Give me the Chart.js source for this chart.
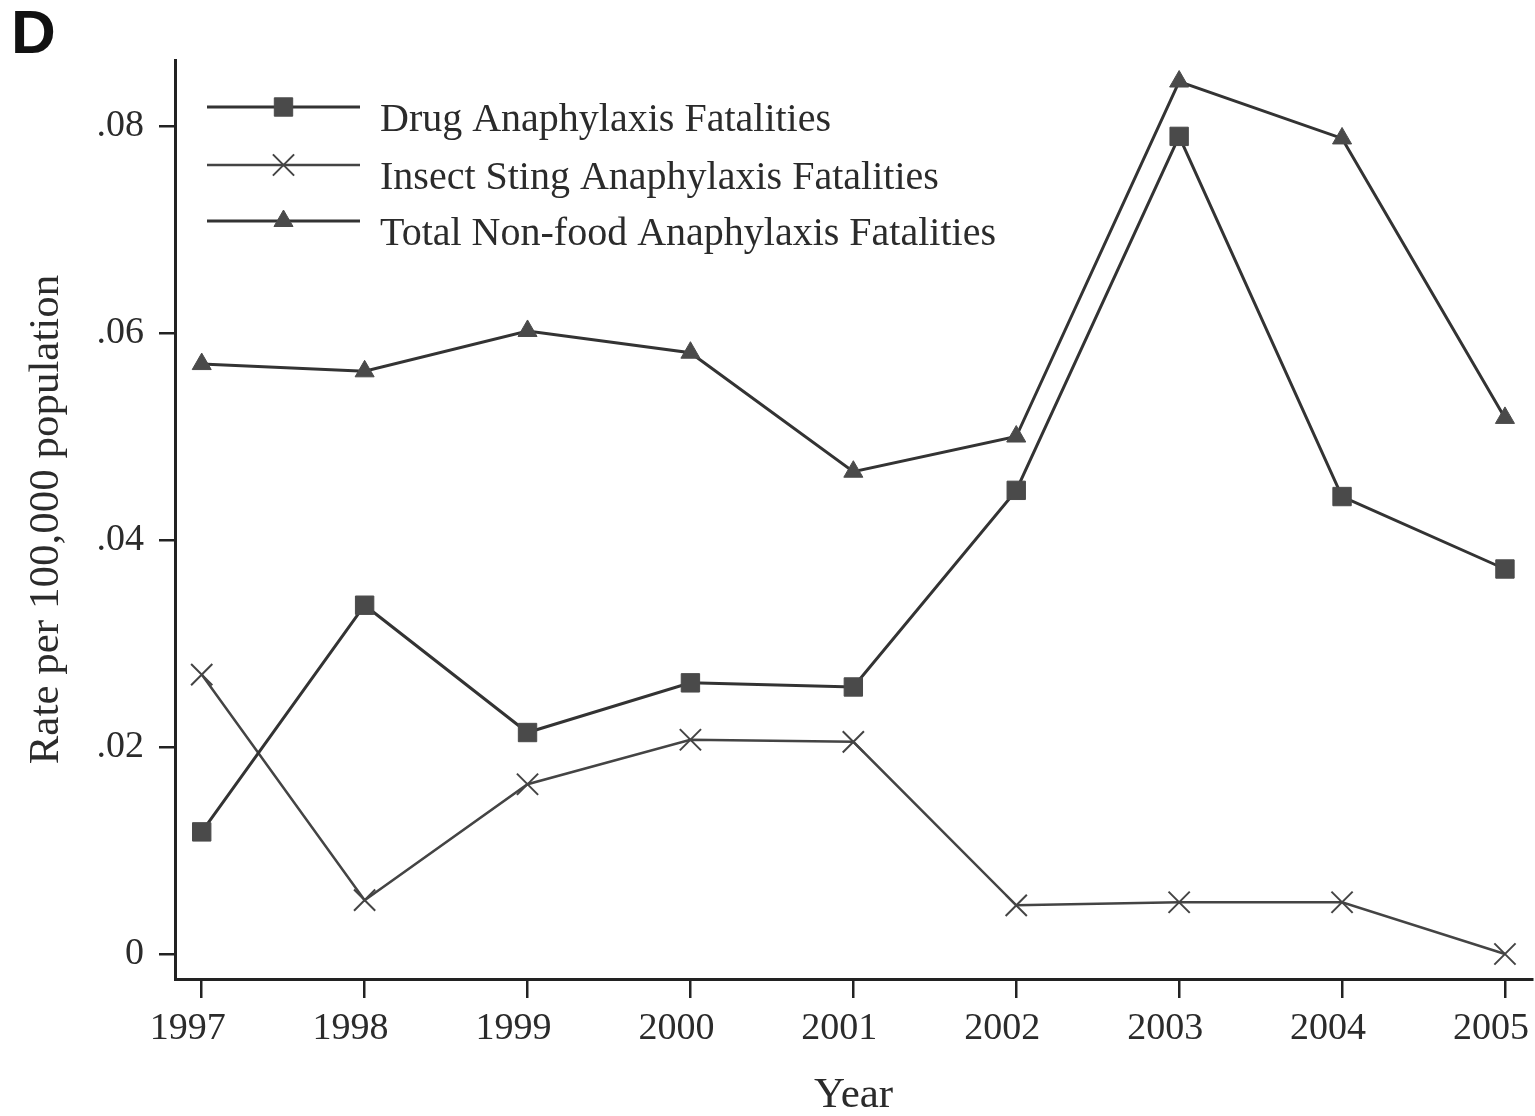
<!DOCTYPE html>
<html>
<head>
<meta charset="utf-8">
<script src="https://cdn.jsdelivr.net/npm/chart.js@4"></script>
<style>
  body { margin: 0; background: #fff; }
  #wrap { position: relative; width: 1535px; height: 1116px; }
  #panel { position: absolute; left: 11px; top: 1px; font: bold 62px "Liberation Sans", Arial, sans-serif; line-height: 1; color: #111; }
</style>
</head>
<body>
<div id="wrap">
  <canvas id="chart" width="1535" height="1116"></canvas>
  <div id="panel">D</div>
</div>
<script>
// values
const years = [1997, 1998, 1999, 2000, 2001, 2002, 2003, 2004, 2005];
const drug = [0.0118, 0.0337, 0.0214, 0.0262, 0.0258, 0.0448, 0.0790, 0.0442, 0.0372];
const insect = [0.0270, 0.0052, 0.0164, 0.0207, 0.0205, 0.0047, 0.0050, 0.0050, 0.0000];
const total = [0.0570, 0.0563, 0.0602, 0.0581, 0.0466, 0.0500, 0.0843, 0.0788, 0.0518];
const yTicks = [0, 0.02, 0.04, 0.06, 0.08];
const seriesNames = ["Drug Anaphylaxis Fatalities", "Insect Sting Anaphylaxis Fatalities", "Total Non-food Anaphylaxis Fatalities"];

const serif = "'Liberation Serif', 'Times New Roman', serif";
const ink = "#2b2b2b";

function points(vals) {
  return years.map((yr, i) => ({ x: yr, y: vals[i] }));
}

// legend drawn inside the plot, line + marker + label
const insideLegend = {
  id: "insideLegend",
  afterDraw(chart) {
    const ctx = chart.ctx;
    const area = chart.chartArea;
    const rows = [47, 105, 161];
    chart.data.datasets.forEach((ds, i) => {
      const y = area.top + rows[i];
      const x0 = area.left + 32, x1 = area.left + 185;
      ctx.save();
      ctx.strokeStyle = ds.borderColor;
      ctx.lineWidth = ds.borderWidth;
      ctx.beginPath();
      ctx.moveTo(x0, y);
      ctx.lineTo(x1, y);
      ctx.stroke();
      ctx.fillStyle = ds.pointBackgroundColor;
      ctx.strokeStyle = ds.pointBorderColor;
      ctx.lineWidth = ds.pointBorderWidth;
      Chart.helpers.drawPoint(ctx, { pointStyle: ds.pointStyle, radius: ds.pointRadius, borderWidth: ds.pointBorderWidth, rotation: 0 }, (x0 + x1) / 2, y);
      ctx.fillStyle = ink;
      ctx.font = "40px " + serif;
      ctx.textBaseline = "alphabetic";
      ctx.textAlign = "left";
      ctx.fillText(ds.label, area.left + 205, y + 24);
      ctx.restore();
    });
  }
};

new Chart(document.getElementById("chart"), {
  type: "line",
  data: {
    datasets: [
      {
        label: seriesNames[0],
        data: points(drug),
        borderColor: "#333",
        borderWidth: 3,
        pointStyle: "rect",
        pointRadius: 13,
        pointBackgroundColor: "#4a4a4a",
        pointBorderColor: "#4a4a4a",
        pointBorderWidth: 1,
        tension: 0
      },
      {
        label: seriesNames[1],
        data: points(insect),
        borderColor: "#444",
        borderWidth: 2.5,
        pointStyle: "crossRot",
        pointRadius: 15,
        pointBackgroundColor: "#444",
        pointBorderColor: "#444",
        pointBorderWidth: 2,
        tension: 0
      },
      {
        label: seriesNames[2],
        data: points(total),
        borderColor: "#333",
        borderWidth: 3,
        pointStyle: "triangle",
        pointRadius: 11,
        pointBackgroundColor: "#4a4a4a",
        pointBorderColor: "#4a4a4a",
        pointBorderWidth: 1,
        tension: 0
      }
    ]
  },
  options: {
    responsive: false,
    animation: false,
    clip: false,
    layout: { autoPadding: false, padding: { top: 60, right: 3, left: 0, bottom: 0 } },
    plugins: {
      legend: { display: false },
      tooltip: { enabled: false }
    },
    scales: {
      x: {
        type: "linear",
        min: 1996.836,
        max: 2005.166,
        afterFit(scale) {
          scale.height = 137;
          scale.paddingLeft = 0;
          scale.paddingRight = 0;
        },
        afterBuildTicks(scale) { scale.ticks = years.map(v => ({ value: v })); },
        grid: { display: true, drawOnChartArea: false, drawTicks: true, tickLength: 19, color: "#222", lineWidth: 2.5 },
        border: { display: true, color: "#222", width: 3 },
        ticks: {
          color: ink,
          padding: 8,
          labelOffset: -14,
          maxRotation: 0,
          autoSkip: false,
          font: { family: serif, size: 38 },
          callback: v => String(v)
        },
        title: {
          display: true,
          text: "Year",
          color: ink,
          padding: { top: 0, bottom: -6 },
          font: { family: serif, size: 43 }
        }
      },
      y: {
        type: "linear",
        min: -0.002415,
        max: 0.08638,
        afterFit(scale) {
          scale.width = 175;
          scale.paddingTop = 0;
          scale.paddingBottom = 0;
        },
        afterBuildTicks(scale) { scale.ticks = yTicks.map(v => ({ value: v })); },
        grid: { display: true, drawOnChartArea: false, drawTicks: true, tickLength: 16, color: "#222", lineWidth: 2.5 },
        border: { display: true, color: "#222", width: 3 },
        ticks: {
          color: ink,
          padding: 15,
          font: { family: serif, size: 38 },
          callback: v => v === 0 ? "0" : String(+v.toFixed(2)).replace(/^0/, "")
        },
        title: {
          display: true,
          text: "Rate per 100,000 population",
          color: ink,
          padding: { top: 21, bottom: 0 },
          font: { family: serif, size: 43 }
        }
      }
    }
  },
  plugins: [insideLegend]
});
</script>
</body>
</html>
